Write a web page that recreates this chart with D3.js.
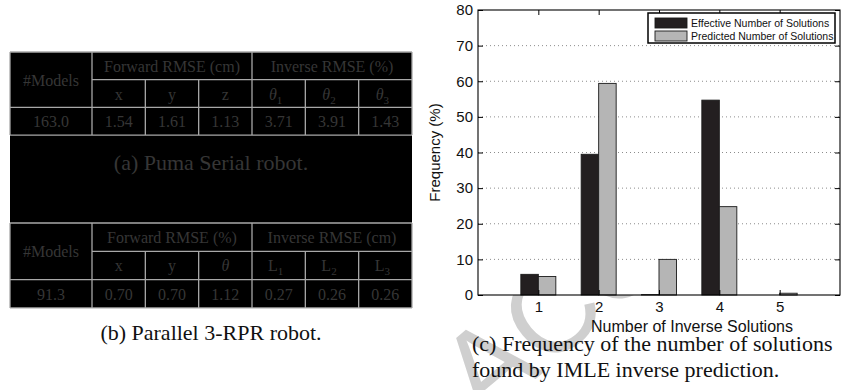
<!DOCTYPE html>
<html>
<head>
<meta charset="utf-8">
<script src="https://cdn.jsdelivr.net/npm/d3@7/dist/d3.min.js"></script>
<style>
  html, body { margin: 0; padding: 0; background: #ffffff; }
  svg { display: block; }
</style>
</head>
<body>
<svg id="fig" width="844" height="390"></svg>
<script>
// ---- chart data: frequency (%) of the number of inverse solutions ----
const categories = [1, 2, 3, 4, 5];
const effectiveSolutions = [5.8, 39.5, 0.1, 54.7, 0.0];
const predictedSolutions = [5.2, 59.4, 10.0, 24.8, 0.5];
const seriesNames = ["Effective Number of Solutions", "Predicted Number of Solutions"];
const yTickValues = [0, 10, 20, 30, 40, 50, 60, 70, 80];
const xLabel = "Number of Inverse Solutions";
const yLabel = "Frequency (%)";

// ---- table (a): Puma serial robot ----
const pumaGroups = ["Forward RMSE (cm)", "Inverse RMSE (%)"];
const pumaColumns = [
  { t: "x" }, { t: "y" }, { t: "z" },
  { t: "θ", s: "1", it: true }, { t: "θ", s: "2", it: true }, { t: "θ", s: "3", it: true }
];
const pumaModels = "163.0";
const pumaValues = ["1.54", "1.61", "1.13", "3.71", "3.91", "1.43"];

// ---- table (b): parallel 3-RPR robot ----
const rprGroups = ["Forward RMSE (%)", "Inverse RMSE (cm)"];
const rprColumns = [
  { t: "x" }, { t: "y" }, { t: "θ", it: true },
  { t: "L", s: "1" }, { t: "L", s: "2" }, { t: "L", s: "3" }
];
const rprModels = "91.3";
const rprValues = ["0.70", "0.70", "1.12", "0.27", "0.26", "0.26"];

const captions = {
  a: "(a) Puma Serial robot.",
  b: "(b) Parallel 3-RPR robot.",
  c: ["(c) Frequency of the number of solutions", "found by IMLE inverse prediction."]
};
const stampLetters = ["A", "C", "C"];

const svg = d3.select("#fig");
const serif = "'Liberation Serif', 'Times New Roman', serif";
const sans = "'Liberation Sans', Arial, Helvetica, sans-serif";

// faint diagonal manuscript stamp sitting behind everything
svg.append("g").selectAll("text").data(stampLetters).join("text")
  .attr("transform", (d, i) => `translate(${487 + i * 64},${365 - i * 54}) rotate(-40)`)
  .attr("text-anchor", "middle")
  .attr("dominant-baseline", "central")
  .attr("font-family", sans)
  .attr("font-size", 120)
  .attr("fill", "#cfcfcf")
  .text(d => d);

// ---- left panel: two tables on a black block ----
const panel = svg.append("g");
const left = 10, right = 412, firstCol = 92;
const colEdges = [left].concat(d3.range(7).map(i => firstCol + i * (right - firstCol) / 6));
const tableInk = "#363636";
const rule = "#a8a8a8";

panel.append("rect")
  .attr("x", left).attr("y", 52)
  .attr("width", right - left).attr("height", 308 - 52)
  .attr("fill", "#000");

function drawTable(top, rowH, groups, columns, models, values) {
  const g = panel.append("g");
  const bottom = top + 3 * rowH;
  const lines = [
    [left, top, right, top], [left, bottom, right, bottom],
    [left, top, left, bottom], [right, top, right, bottom],
    [colEdges[1], top, colEdges[1], bottom],
    [colEdges[4], top, colEdges[4], bottom],
    [colEdges[1], top + rowH, right, top + rowH],
    [left, top + 2 * rowH, right, top + 2 * rowH]
  ];
  [2, 3, 5, 6].forEach(i => lines.push([colEdges[i], top + rowH, colEdges[i], bottom]));
  g.selectAll("line").data(lines).join("line")
    .attr("x1", d => d[0]).attr("y1", d => d[1])
    .attr("x2", d => d[2]).attr("y2", d => d[3])
    .attr("stroke", rule).attr("stroke-width", 1.3);

  const txt = (x, y, s) => g.append("text")
    .attr("x", x).attr("y", y)
    .attr("text-anchor", "middle")
    .attr("font-family", serif).attr("font-size", 16)
    .attr("fill", tableInk).text(s);

  txt((colEdges[0] + colEdges[1]) / 2, top + rowH + 6, "#Models");
  txt((colEdges[1] + colEdges[4]) / 2, top + rowH / 2 + 6, groups[0]);
  txt((colEdges[4] + colEdges[7]) / 2, top + rowH / 2 + 6, groups[1]);

  columns.forEach((c, i) => {
    const cx = (colEdges[i + 1] + colEdges[i + 2]) / 2;
    const t = g.append("text")
      .attr("x", cx - (c.s ? 3 : 0)).attr("y", top + 1.5 * rowH + 6)
      .attr("text-anchor", "middle")
      .attr("font-family", serif).attr("font-size", 16)
      .attr("fill", tableInk);
    t.append("tspan").attr("font-style", c.it ? "italic" : "normal").text(c.t);
    if (c.s) t.append("tspan").attr("font-size", 11).attr("dy", 4).text(c.s);
  });

  txt((colEdges[0] + colEdges[1]) / 2, top + 2.5 * rowH + 6, models);
  values.forEach((v, i) => txt((colEdges[i + 1] + colEdges[i + 2]) / 2, top + 2.5 * rowH + 6, v));
}

drawTable(52, 27.7, pumaGroups, pumaColumns, pumaModels, pumaValues);
drawTable(223, 28.3, rprGroups, rprColumns, rprModels, rprValues);

panel.append("text")
  .attr("x", (left + right) / 2).attr("y", 170)
  .attr("text-anchor", "middle")
  .attr("font-family", serif).attr("font-size", 22)
  .attr("fill", tableInk).text(captions.a);

svg.append("text")
  .attr("x", (left + right) / 2).attr("y", 340)
  .attr("text-anchor", "middle")
  .attr("font-family", serif).attr("font-size", 22)
  .attr("fill", "#111").text(captions.b);

// ---- right panel: grouped bar chart ----
const x = d3.scaleLinear().domain([0, 6]).range([478, 840]);
const y = d3.scaleLinear().domain([0, 80]).range([295, 10]);
const barW = 0.29;
const chart = svg.append("g");

chart.append("rect")
  .attr("x", x(0)).attr("y", y(80))
  .attr("width", x(6) - x(0)).attr("height", y(0) - y(80))
  .attr("fill", "#fff");

chart.append("g").selectAll("line")
  .data(yTickValues.filter(v => v > 0 && v < 80)).join("line")
  .attr("x1", x(0)).attr("x2", x(6))
  .attr("y1", d => y(d)).attr("y2", d => y(d))
  .attr("stroke", "#6e6e6e").attr("stroke-width", 0.8)
  .attr("stroke-dasharray", "1,3");

const series = [
  { values: effectiveSolutions, fill: "#231f20", offset: -barW },
  { values: predictedSolutions, fill: "#b5b5b5", offset: 0 }
];
series.forEach(s => {
  chart.append("g").selectAll("rect")
    .data(categories.map((c, i) => ({ c, v: s.values[i] }))).join("rect")
    .attr("x", d => x(d.c + s.offset))
    .attr("width", x(barW) - x(0))
    .attr("y", d => y(d.v))
    .attr("height", d => y(0) - y(d.v))
    .attr("fill", s.fill)
    .attr("stroke", "#1a1a1a").attr("stroke-width", 0.9);
});

// axes: inward ticks on all four sides, box drawn separately
const styleAxis = g => {
  g.select(".domain").remove();
  g.selectAll("line").attr("stroke", "#000");
  g.selectAll("text").attr("font-family", sans).attr("font-size", 15).attr("fill", "#111");
};
chart.append("g").attr("transform", `translate(${x(0)},0)`)
  .call(d3.axisLeft(y).tickValues(yTickValues).tickSize(-5).tickPadding(5).tickFormat(d3.format("d")))
  .call(styleAxis);
chart.append("g").attr("transform", `translate(${x(6)},0)`)
  .call(d3.axisRight(y).tickValues(yTickValues).tickSize(-5).tickFormat(""))
  .call(styleAxis);
chart.append("g").attr("transform", `translate(0,${y(0)})`)
  .call(d3.axisBottom(x).tickValues(categories).tickSize(-5).tickPadding(6).tickFormat(d3.format("d")))
  .call(styleAxis);
chart.append("g").attr("transform", `translate(0,${y(80)})`)
  .call(d3.axisTop(x).tickValues(categories).tickSize(-5).tickFormat(""))
  .call(styleAxis);

chart.append("rect")
  .attr("x", x(0)).attr("y", y(80))
  .attr("width", x(6) - x(0)).attr("height", y(0) - y(80))
  .attr("fill", "none").attr("stroke", "#000").attr("stroke-width", 1.1);

chart.append("text")
  .attr("transform", `translate(440,${(y(0) + y(80)) / 2}) rotate(-90)`)
  .attr("text-anchor", "middle")
  .attr("font-family", sans).attr("font-size", 15).attr("fill", "#111")
  .text(yLabel);

chart.append("text")
  .attr("x", 692).attr("y", 332)
  .attr("text-anchor", "middle")
  .attr("font-family", sans).attr("font-size", 16).attr("fill", "#111")
  .text(xLabel);

// legend
const legend = chart.append("g");
legend.append("rect")
  .attr("x", 648).attr("y", 13).attr("width", 187).attr("height", 30)
  .attr("fill", "#fff").attr("stroke", "#000").attr("stroke-width", 1.5);
seriesNames.forEach((name, i) => {
  legend.append("rect")
    .attr("x", 655).attr("y", 18 + i * 13).attr("width", 32).attr("height", 10)
    .attr("fill", series[i].fill).attr("stroke", "#1a1a1a").attr("stroke-width", 0.9);
  legend.append("text")
    .attr("x", 691).attr("y", 27 + i * 13)
    .attr("font-family", sans).attr("font-size", 10.5).attr("fill", "#111")
    .text(name);
});

// caption (c)
captions.c.forEach((line, i) => {
  svg.append("text")
    .attr("x", 472).attr("y", 351 + i * 26)
    .attr("font-family", serif).attr("font-size", 22)
    .attr("fill", "#111").text(line);
});
</script>
</body>
</html>
